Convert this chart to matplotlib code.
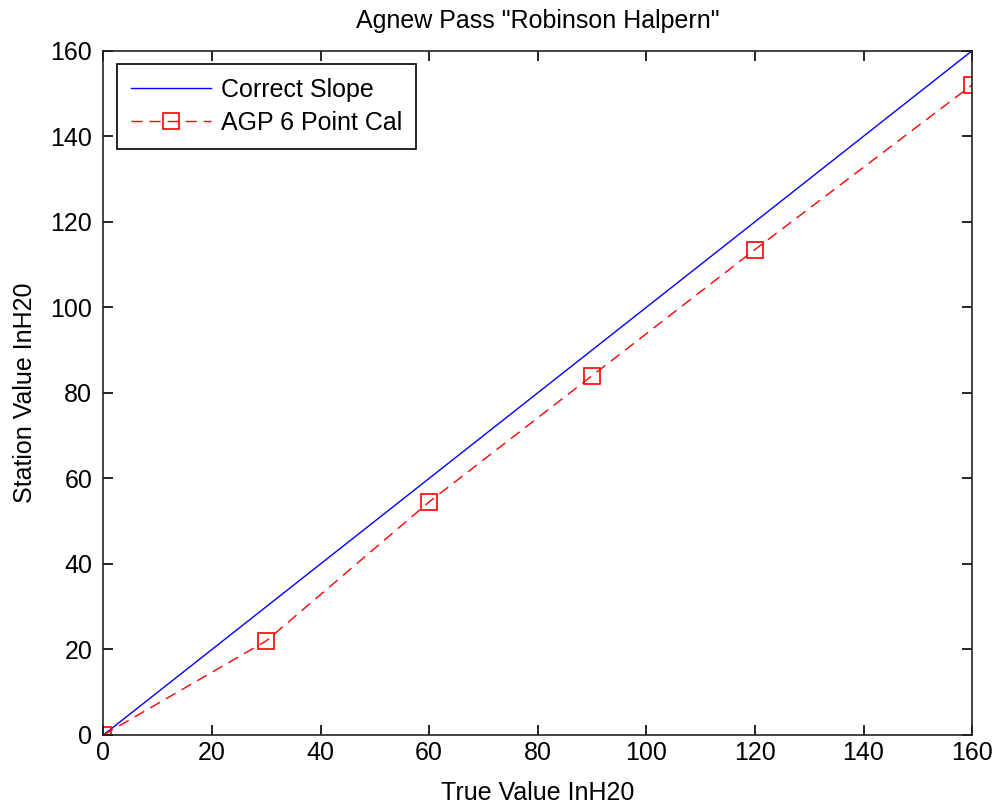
import numpy as np
import matplotlib
matplotlib.use('Agg')
import matplotlib.pyplot as plt

# Data
true_vals = [0, 30, 60, 90, 120, 160]
station_vals = [0, 22, 54.5, 84, 113.5, 152]
slope_x = [0, 160]
slope_y = [0, 160]
ticks = [0, 20, 40, 60, 80, 100, 120, 140, 160]

plt.rcParams['font.family'] = ['Liberation Sans', 'DejaVu Sans']
fs = 18

fig = plt.figure(figsize=(9.94, 8.05), dpi=100)
ax = fig.add_axes([0.104, 0.087, 0.874, 0.85])

ax.plot(slope_x, slope_y, color='blue', lw=1.0, label='Correct Slope')
ax.plot(true_vals, station_vals, color='red', lw=1.0, ls=(0, (8, 5)),
        marker='s', markersize=11, markerfacecolor='none', markeredgecolor='red',
        markeredgewidth=1.2, label='AGP 6 Point Cal')

ax.set_xlim(0, 160)
ax.set_ylim(0, 160)
ax.set_xticks(ticks)
ax.set_yticks(ticks)
ax.tick_params(direction='in', top=True, right=True, labelsize=fs, length=7, width=1.2)
ax.tick_params(axis='x', pad=4)
ax.tick_params(axis='y', pad=8)
for sp in ax.spines.values():
    sp.set_linewidth(1.2)
    sp.set_color('#222222')

ax.set_xlabel('True Value InH20', fontsize=fs, labelpad=12)
ax.set_ylabel('Station Value InH20', fontsize=fs, labelpad=10)
ax.set_title('Agnew Pass "Robinson Halpern"', fontsize=fs, pad=16)

leg = ax.legend(loc='upper left', bbox_to_anchor=(0.0155, 0.98), borderaxespad=0,
                fontsize=fs, fancybox=False, edgecolor='black', framealpha=1,
                handlelength=3.2, handletextpad=0.4, borderpad=0.55, labelspacing=0.35)
leg.get_frame().set_linewidth(1.2)

fig.savefig('out.png', dpi=100)
